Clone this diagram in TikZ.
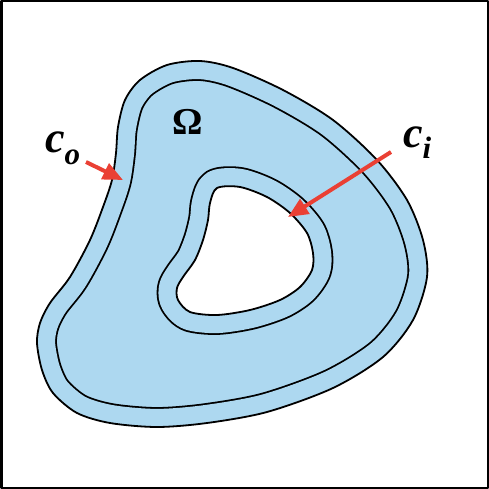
\documentclass[tikz,border=0pt]{standalone}
\usepackage{fontspec}
\setmainfont{Liberation Serif}
\usetikzlibrary{arrows.meta}

\definecolor{regionblue}{RGB}{173,216,240}
\definecolor{arrowred}{RGB}{234,64,52}

\def\outerpath{plot[smooth cycle] coordinates {(37,343) (42,370) (53,393) (77,413)
  (110,423) (157,427) (207,423) (267,412) (333,388) (383,357) (413,320) (427,277)
  (423,240) (407,200) (377,160) (333,120) (283,90) (233,68) (200,61) (167,65)
  (140,80) (125,100) (118,127) (116,153) (112,180) (103,207) (90,240) (70,277)
  (50,303) (40,323)}}
\def\holepath{plot[smooth cycle] coordinates {(217,188) (240,187) (267,197) (290,213)
  (307,233) (313,253) (312,270) (300,287) (280,300) (250,310) (217,315) (190,312)
  (178,300) (177,288) (183,277) (195,260) (203,240) (208,220) (210,203)}}

\begin{document}
\begin{tikzpicture}[x=1pt, y=-1pt, line join=round,
    pointer/.style={arrowred, line width=4pt, -{Triangle[length=20pt, width=17pt]}},
    curvelabel/.style={inner sep=0pt, anchor=base west, font=\fontsize{44}{44}\selectfont\bfseries\itshape}]
  \useasboundingbox (0,0) rectangle (489,489);
  % outer curve with its inner parallel
  \begin{scope}
    \clip \outerpath;
    \fill[regionblue] (0,0) rectangle (489,489);
    \draw[line width=39.8pt] \outerpath;
    \draw[regionblue, line width=36.2pt] \outerpath;
  \end{scope}
  \draw[line width=1.8pt] \outerpath;
  % hole with its outer parallel
  \draw[line width=39.8pt] \holepath;
  \draw[regionblue, line width=36.2pt] \holepath;
  \fill[white] \holepath;
  \draw[line width=1.8pt] \holepath;
  \draw[line width=2.5pt] (1.25,1.25) rectangle (487.75,487.75);
  % labels
  \node[inner sep=0pt, anchor=base, font=\fontsize{38}{38}\selectfont\bfseries] (omega) at (188,135) {Ω};
  \node[curvelabel] (co) at (45,153) {c\raisebox{-12pt}{\fontsize{31}{31}\selectfont o}};
  \node[curvelabel] (ci) at (403,147) {c\raisebox{-11pt}{\fontsize{31}{31}\selectfont i}};
  \coordinate (cotail) at (86,162);
  \coordinate (cotip) at (123,180);
  \coordinate (citail) at (391,152);
  \coordinate (citip) at (288,217);
  \draw[pointer] (cotail) -- (cotip);
  \draw[pointer] (citail) -- (citip);
\end{tikzpicture}
\end{document}
